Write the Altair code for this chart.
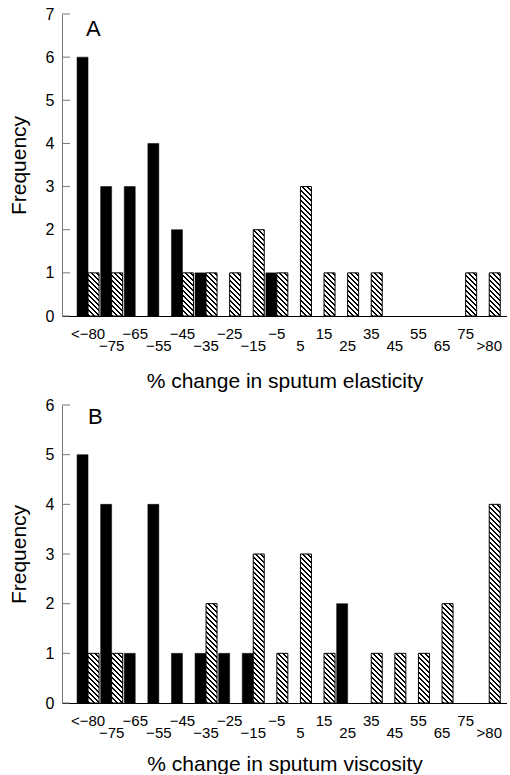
import json
import math
import altair as alt
import pandas as pd

# ---- data ----
categories = ["<\u221280", "\u221275", "\u221265", "\u221255", "\u221245", "\u221235",
              "\u221225", "\u221215", "\u22125", "5", "15", "25", "35", "45",
              "55", "65", "75", ">80"]
series_names = ["Drug", "Placebo"]          # black bars, hatched bars

elasticity_black = [6, 3, 3, 4, 2, 1, 0, 0, 1, 0, 0, 0, 0, 0, 0, 0, 0, 0]
elasticity_hatch = [1, 1, 0, 0, 1, 1, 1, 2, 1, 3, 1, 1, 1, 0, 0, 0, 1, 1]
viscosity_black = [5, 4, 1, 4, 1, 1, 1, 1, 0, 0, 0, 2, 0, 0, 0, 0, 0, 0]
viscosity_hatch = [1, 1, 0, 0, 0, 2, 0, 3, 1, 3, 1, 0, 1, 1, 1, 2, 0, 4]

titles = ["% change in sputum elasticity", "% change in sputum viscosity"]
letters = ["A", "B"]
y_max = [7, 6]

# ---- layout / style ----
FONT = "Liberation Sans"
PLOT_W = 445
PLOT_H = [302, 298]
PAD_INNER = 0.068
PAD_OUTER = 0.462
ALIGN = 0.69
step = PLOT_W / (len(categories) - PAD_INNER + 2 * PAD_OUTER)
BAR_W = step * (1 - PAD_INNER) / 2

lower_labels = categories[1::2]
lower_test = "indexof(" + json.dumps(lower_labels, ensure_ascii=False) + ", datum.value) >= 0"


def hatch_fill(w, h, period=5.0, line=2.0):
    """Diagonal (\\) hatching as a bounding-box linear gradient."""
    L = w + h
    den = w * w + h * h
    dx = w * L / den
    dy = -h * L / den
    stops = []
    k = 0
    while k * period < L + period:
        a = k * period / L
        b = (k * period + line) / L
        c = (k + 1) * period / L
        for off, col in [(a, "black"), (b, "black"), (b, "white"), (c, "white")]:
            stops.append({"offset": max(0.0, min(1.0, off)), "color": col})
        k += 1
    return {"gradient": "linear", "x1": 0, "y1": 1, "x2": dx, "y2": 1 + dy,
            "stops": stops}


def panel(black, hatch, ymax, height, title, letter, letter_pos, title_pad, lower_pad):
    rows = []
    for i, c in enumerate(categories):
        rows.append({"category": c, "series": series_names[0], "value": black[i]})
        rows.append({"category": c, "series": series_names[1], "value": hatch[i]})
    df = pd.DataFrame(rows)

    x_enc = alt.X("category:N", sort=categories,
                  scale=alt.Scale(domain=categories, paddingInner=PAD_INNER,
                                  paddingOuter=PAD_OUTER, align=ALIGN),
                  axis=alt.Axis(title=title, titleFontSize=21, titleFontWeight="normal",
                                titleFont=FONT, titlePadding=title_pad, titleColor="black",
                                labelFontSize=15, labelFont=FONT, labelColor="black",
                                labelAngle=0, ticks=False, tickSize=0,
                                labelPadding={"condition": {"test": lower_test, "value": lower_pad},
                                              "value": 10},
                                domainColor="black", domainWidth=1.2, labelOverlap=False))
    xo_enc = alt.XOffset("series:N",
                         scale=alt.Scale(domain=series_names, paddingInner=0, paddingOuter=0))
    y_scale = alt.Scale(domain=[0, ymax], nice=False)
    y_axis = alt.Axis(title="Frequency", titleFontSize=21, titleFontWeight="normal",
                      titleFont=FONT, titleColor="black", titlePadding=16,
                      labelFontSize=16, labelFont=FONT, labelColor="black",
                      labelPadding=8, ticks=False, tickSize=0, grid=False,
                      values=list(range(ymax + 1)), format="d",
                      domainColor="#777777", domainWidth=1)
    y_enc = alt.Y("value:Q", scale=y_scale, axis=y_axis)

    base = alt.Chart(df).encode(x=x_enc, xOffset=xo_enc, y=y_enc)

    black_layer = base.mark_bar(color="black", stroke="black", strokeWidth=0.5).transform_filter(
        (alt.datum.series == series_names[0]) & (alt.datum.value > 0))

    layers = [black_layer]
    unit = height / ymax
    for v in sorted(set(x for x in hatch if x > 0)):
        layers.append(
            base.mark_bar(fill=hatch_fill(BAR_W, v * unit), stroke="black", strokeWidth=1)
            .transform_filter((alt.datum.series == series_names[1]) & (alt.datum.value == v))
        )

    ticks_df = pd.DataFrame({"value": list(range(ymax + 1))})
    tick_layer = alt.Chart(ticks_df).mark_rule(color="#777777", strokeWidth=1).encode(
        y=alt.Y("value:Q", scale=y_scale, axis=y_axis),
        x=alt.value(0), x2=alt.value(8))
    layers.append(tick_layer)

    letter_df = pd.DataFrame({"label": [letter]})
    letter_layer = alt.Chart(letter_df).mark_text(
        font=FONT, fontSize=22, align="left", baseline="alphabetic", color="black"
    ).encode(text="label:N", x=alt.value(letter_pos[0]), y=alt.value(letter_pos[1]))
    layers.append(letter_layer)

    return alt.layer(*layers).properties(width=PLOT_W, height=height)


top = panel(elasticity_black, elasticity_hatch, y_max[0], PLOT_H[0], titles[0], letters[0],
            (24, 22), 17, 22)
bottom = panel(viscosity_black, viscosity_hatch, y_max[1], PLOT_H[1], titles[1], letters[1],
               (26, 19), 13, 22)

chart = alt.vconcat(top, bottom, spacing=89, bounds="flush").properties(
    padding={"left": 8, "top": 6, "right": 0, "bottom": 0},
    background="white",
).configure(font=FONT).configure_view(stroke=None)

chart.save("out.html", embed_options={"renderer": "svg", "actions": False})
